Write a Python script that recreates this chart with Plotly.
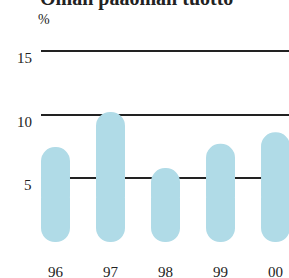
import plotly.graph_objects as go

years = ["96", "97", "98", "99", "00"]
roe = [7.45, 10.2, 5.8, 7.7, 8.6]
y_ticks = [5, 10, 15]
y_tick_labels = ["5", "10", "15"]
title_text = "Oman pääoman tuotto"
unit_text = "%"

bar_color = "#b0dbe7"
font_family = "Liberation Serif, Times New Roman, serif"
xs = list(range(len(years)))
y_range = [-0.627, 16.63]
split = 2.5      # upper half of each pill starts here
low_top = 3.5    # lower (bottom-rounded) half reaches up to here

fig = go.Figure()
# upper half: rounded top
fig.add_trace(go.Bar(
    x=xs, y=[v - split for v in roe], base=[split] * len(roe),
    marker=dict(color=bar_color, line=dict(width=0), cornerradius="50%"),
    width=0.527, hoverinfo="skip", yaxis="y",
))
# lower half drawn on a mirrored axis so its rounded end is at the bottom
fig.add_trace(go.Bar(
    x=xs, y=[low_top] * len(roe),
    marker=dict(color=bar_color, line=dict(width=0), cornerradius="50%"),
    width=0.527, hoverinfo="skip", yaxis="y2",
))

for v, t in zip(y_ticks, y_tick_labels):
    fig.add_annotation(x=0, xref="paper", xanchor="right", xshift=-7,
                       y=v, yref="y", yanchor="middle", yshift=-7,
                       text=t, showarrow=False,
                       font=dict(family=font_family, size=15, color="#222"))

fig.add_annotation(x=0, xref="paper", xanchor="left", xshift=-5,
                   y=1, yref="paper", yanchor="middle", yshift=11,
                   text=unit_text, showarrow=False,
                   font=dict(family=font_family, size=14, color="#222"))
fig.add_annotation(x=0, xref="paper", xanchor="left", xshift=-3,
                   y=1, yref="paper", yanchor="bottom", yshift=18,
                   text="<b>" + title_text + "</b>", showarrow=False,
                   font=dict(family=font_family, size=20, color="#222"))

fig.update_layout(
    width=289, height=278,
    margin=dict(l=41, r=0, t=30, b=28),
    paper_bgcolor="white", plot_bgcolor="white",
    barmode="overlay", showlegend=False,
    xaxis=dict(range=[-0.2636, 4.245], tickmode="array", tickvals=xs, ticktext=years,
               showgrid=False, zeroline=False, showline=False, automargin=False,
               ticks="outside", ticklen=0, ticklabelstandoff=8,
               tickfont=dict(family=font_family, size=15, color="#222")),
    yaxis=dict(range=y_range, tickmode="array", tickvals=y_ticks,
               showticklabels=False, showgrid=True, gridcolor="#222", gridwidth=1.5,
               zeroline=False, showline=False, automargin=False),
    yaxis2=dict(range=[low_top - y_range[0], low_top - y_range[1]], overlaying="y",
                visible=False, showgrid=False, zeroline=False),
)
fig.write_html("out.html", config={"displayModeBar": False},
               post_script="document.body.style.margin='0';")
